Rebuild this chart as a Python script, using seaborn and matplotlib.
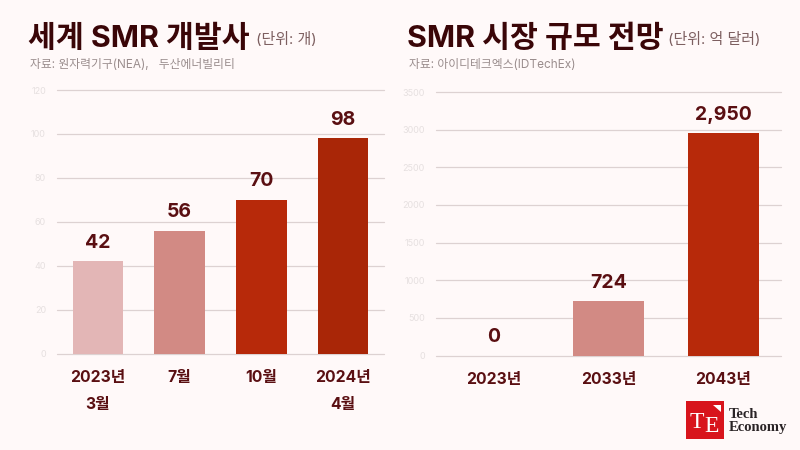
import matplotlib
matplotlib.use("Agg")
import matplotlib.pyplot as plt
from matplotlib.patches import Rectangle, Polygon
import pandas as pd
import seaborn as sns

# data
dev_labels = ["2023년\n3월", "7월", "10월", "2024년\n4월"]
dev_values = [42, 56, 70, 98]
dev_colors = ["#e3b6b6", "#d28a84", "#b7290a", "#a92607"]
dev_ticks = [0, 20, 40, 60, 80, 100, 120]

market_labels = ["2023년", "2033년", "2043년"]
market_values = [0, 724, 2950]
market_colors = ["#e3b6b6", "#d28a84", "#b7290a"]
market_ticks = [0, 500, 1000, 1500, 2000, 2500, 3000, 3500]

BG = "#fff9f9"
DARK = "#3a0608"
LABEL = "#5a0f12"
GRID = "#ddd2d2"
FONT = ["Inter", "Noto Sans CJK KR", "DejaVu Sans"]

sns.set_theme(style="white")
plt.rcParams["font.family"] = FONT


def draw_bars(ax, labels, values, colors, ticks, width):
    df = pd.DataFrame({"label": labels, "value": values})
    sns.barplot(data=df, x="label", y="value", hue="label", palette=colors,
                width=width, saturation=1, legend=False, ax=ax, zorder=3,
                linewidth=0)
    ax.set_xlim(-0.5, len(labels) - 0.5)
    ax.set_ylim(0, ticks[-1])
    ax.set_yticks(ticks)
    ax.set_xlabel("")
    ax.set_ylabel("")
    ax.set_facecolor("none")
    ax.grid(axis="y", color=GRID, linewidth=0.9, zorder=0, clip_on=False)
    ax.set_axisbelow(True)
    sns.despine(ax=ax, left=True, bottom=True)
    ax.tick_params(axis="y", length=0, pad=8, labelsize=6.5, labelcolor="#e6e0e0")
    ax.tick_params(axis="x", length=0, pad=12)
    for t in ax.get_xticklabels():
        t.set_fontsize(11.3)
        t.set_fontweight("bold")
        t.set_color(LABEL)
        t.set_linespacing(2.0)
        t.set_verticalalignment("top")
    for c in ax.containers:
        ax.bar_label(c, labels=[f"{int(v):,}" for v in c.datavalues], padding=6.8,
                     fontsize=14, fontweight="bold", color=LABEL)


fig = plt.figure(figsize=(8, 4.5), dpi=100, facecolor=BG)

ax1 = fig.add_axes([57 / 800, 1 - 353.5 / 450, 327 / 800, 263.5 / 450])
draw_bars(ax1, dev_labels, dev_values, dev_colors, dev_ticks, 0.62)

ax2 = fig.add_axes([436 / 800, 1 - 355.5 / 450, 345 / 800, 263.5 / 450])
draw_bars(ax2, market_labels, market_values, market_colors, market_ticks, 0.626)


def txt(x, y, s, **kw):
    fig.text(x / 800, 1 - y / 450, s, va="baseline", **kw)


# titles
txt(28, 47, "세계 SMR 개발사", fontsize=21.8, fontweight="bold", color=DARK)
txt(256, 44, "(단위: 개)", fontsize=10.8, color="#7d5f60")
txt(30, 68, "자료: 원자력기구(NEA),   두산에너빌리티", fontsize=8.5, color="#9a8d8d")

txt(407, 47, "SMR 시장 규모 전망", fontsize=21.8, fontweight="bold", color=DARK)
txt(668, 44, "(단위: 억 달러)", fontsize=10.8, color="#7d5f60")
txt(409, 68, "자료: 아이디테크엑스(IDTechEx)", fontsize=8.5, color="#9a8d8d")

# logo
fig.add_artist(Rectangle((686 / 800, 1 - 439 / 450), 38 / 800, 38 / 450,
                         transform=fig.transFigure, color="#d8141c", lw=0))
fig.add_artist(Polygon([(713 / 800, 1 - 405 / 450), (721 / 800, 1 - 405 / 450),
                        (721 / 800, 1 - 412 / 450)],
                       transform=fig.transFigure, color="white", lw=0))
txt(690, 428, "T", fontsize=17, family="Liberation Serif", color="white")
txt(704, 432, "E", fontsize=17, family="Liberation Serif", color="white")
txt(729, 418, "Tech", fontsize=10.5, family="Liberation Serif", fontweight="bold", color="#2a2426")
txt(729, 431, "Economy", fontsize=10.5, family="Liberation Serif", fontweight="bold", color="#2a2426")

fig.savefig("out.png", dpi=100, facecolor=BG)
